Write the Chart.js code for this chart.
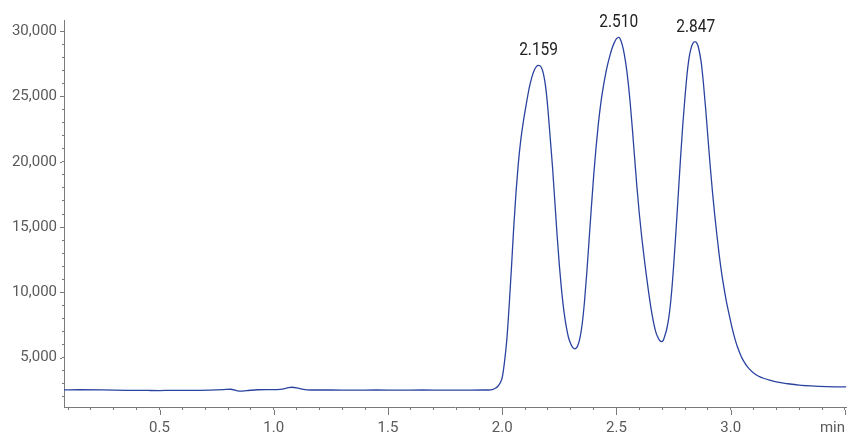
<!DOCTYPE html>
<html>
<head>
<meta charset="utf-8">
<script src="https://cdn.jsdelivr.net/npm/chart.js@4/dist/chart.umd.min.js"></script>
<style>
  html, body { margin: 0; padding: 0; background: #ffffff; }
  #wrap { width: 854px; height: 436px; }
</style>
</head>
<body>
<div id="wrap"><canvas id="c" width="854" height="436"></canvas></div>
<script>
// Retention time (min)
const times = [
  0.08, 0.15, 0.25, 0.35, 0.45, 0.50, 0.55, 0.65, 0.72, 0.78, 0.81, 0.85, 0.88, 0.93, 0.98, 1.03, 1.06, 1.08, 1.10, 1.13, 1.16,
  1.25, 1.35, 1.45, 1.55, 1.65, 1.75, 1.85, 1.92, 1.95, 1.96, 1.97, 1.98, 1.99,
  2.00, 2.01, 2.02, 2.03, 2.04, 2.05, 2.06, 2.07, 2.08, 2.09, 2.10, 2.11, 2.12, 2.13, 2.14, 2.15, 2.159,
  2.17, 2.18, 2.19, 2.20, 2.21, 2.22, 2.23, 2.24, 2.25, 2.26, 2.27, 2.28, 2.29, 2.30, 2.31, 2.317, 2.325,
  2.33, 2.34, 2.35, 2.36, 2.37, 2.38, 2.39, 2.40, 2.41, 2.42, 2.43, 2.44, 2.45, 2.46, 2.47, 2.48, 2.49, 2.50, 2.51,
  2.52, 2.53, 2.54, 2.55, 2.56, 2.57, 2.58, 2.59, 2.60, 2.61, 2.62, 2.63, 2.64, 2.65, 2.66, 2.67, 2.68, 2.69, 2.697,
  2.705, 2.71, 2.72, 2.73, 2.74, 2.75, 2.76, 2.77, 2.78, 2.79, 2.80, 2.81, 2.82, 2.83, 2.84, 2.847, 2.855,
  2.86, 2.87, 2.88, 2.89, 2.90, 2.91, 2.92, 2.93, 2.94, 2.95, 2.96, 2.97, 2.98, 2.99,
  3.00, 3.01, 3.02, 3.03, 3.04, 3.05, 3.06, 3.07, 3.08, 3.10, 3.12, 3.14, 3.17, 3.20, 3.25, 3.30, 3.35, 3.42, 3.506
];
// Detector signal
const signal = [
  2540, 2550, 2540, 2510, 2495, 2490, 2500, 2505, 2520, 2560, 2590, 2450, 2480, 2550, 2560, 2580, 2690, 2740, 2700, 2580, 2530,
  2530, 2520, 2530, 2520, 2530, 2520, 2525, 2530, 2545, 2580, 2660, 2800, 3050,
  3500, 4700, 6400, 8900, 11800, 14900, 17600, 19800, 21500, 22800, 23900, 24900, 25800, 26500, 27000, 27300, 27380,
  27250, 26750, 25730, 24000, 21800, 19600, 17000, 14400, 12050, 10100, 8550, 7400, 6550, 6050, 5750, 5680, 5760,
  5900, 6500, 7600, 9300, 11500, 14000, 16500, 18900, 21000, 22800, 24300, 25500, 26500, 27350, 28050, 28650, 29100, 29420, 29520,
  29250, 28600, 27600, 26250, 24500, 22400, 20150, 17950, 16000, 14300, 12800, 11400, 10100, 8900, 7900, 7100, 6600, 6300, 6230,
  6350, 6600, 7200, 8200, 9800, 12000, 14600, 17400, 20200, 22800, 25000, 26900, 28200, 28900, 29170, 29180, 28950,
  28650, 27700, 26100, 24100, 21900, 19700, 17700, 15900, 14300, 12800, 11500, 10400, 9400, 8550,
  7750, 7000, 6350, 5800, 5350, 4950, 4650, 4380, 4170, 3830, 3600, 3450, 3280, 3150, 3010, 2900, 2840, 2790, 2770
];
// Peak annotations
const peakTimes = [2.159, 2.510, 2.847];
const peakHeights = [27380, 29520, 29180];
const peakLabels = ['2.159', '2.510', '2.847'];
// Axis ticks
const xMajorTicks = [0.5, 1.0, 1.5, 2.0, 2.5, 3.0, 3.5];
const xMajorLabels = ['0.5', '1.0', '1.5', '2.0', '2.5', '3.0', 'min'];
const yMajorTicks = [5000, 10000, 15000, 20000, 25000, 30000];
const yMajorLabels = ['5,000', '10,000', '15,000', '20,000', '25,000', '30,000'];

const xMinor = []; for (let k = 1; k <= 35; k++) xMinor.push(k / 10);
const yMinor = []; for (let k = 2; k <= 30; k++) yMinor.push(k * 1000);

const AXIS = '#7a7a7a';
const LABEL = '#5a5a5a';

const majorTickPlugin = {
  id: 'majorTicks',
  afterDraw(chart) {
    const ctx = chart.ctx;
    const xs = chart.scales.x, ys = chart.scales.y;
    ctx.save();
    ctx.strokeStyle = AXIS;
    ctx.lineWidth = 1;
    ctx.beginPath();
    xMajorTicks.forEach(v => {
      const px = Math.round(xs.getPixelForValue(v)) + 0.5;
      ctx.moveTo(px, xs.top + 3);
      ctx.lineTo(px, xs.top + 8);
    });
    yMajorTicks.forEach(v => {
      const py = Math.round(ys.getPixelForValue(v)) + 0.5;
      ctx.moveTo(ys.right - 2, py);
      ctx.lineTo(ys.right - 4, py);
    });
    ctx.stroke();
    // peak labels
    ctx.fillStyle = '#222222';
    ctx.font = '18px Roboto';
    ctx.textAlign = 'center';
    ctx.textBaseline = 'alphabetic';
    peakTimes.forEach((t, i) => {
      const px = xs.getPixelForValue(t);
      const py = ys.getPixelForValue(peakHeights[i]) - 10;
      ctx.save();
      ctx.translate(px, py);
      ctx.scale(0.86, 1);
      ctx.fillText(peakLabels[i], 0, 0);
      ctx.restore();
    });
    ctx.restore();
  }
};

new Chart(document.getElementById('c'), {
  type: 'line',
  data: {
    datasets: [{
      data: times.map((t, i) => ({ x: t, y: signal[i] })),
      borderColor: '#2b43a0',
      borderWidth: 1.3,
      pointRadius: 0,
      fill: false,
      cubicInterpolationMode: 'monotone'
    }]
  },
  options: {
    responsive: false,
    animation: false,
    devicePixelRatio: 1,
    layout: { padding: { top: 20, right: 7, left: 0, bottom: 0 } },
    plugins: { legend: { display: false }, tooltip: { enabled: false } },
    scales: {
      x: {
        type: 'linear',
        min: 0.082,
        max: 3.506,
        border: { color: AXIS, width: 1 },
        grid: { drawOnChartArea: false, drawTicks: true, tickLength: 3, tickColor: AXIS },
        afterBuildTicks: s => { s.ticks = xMinor.map(v => ({ value: v })); },
        afterFit: s => { s.height = 29; },
        ticks: {
          autoSkip: false, maxRotation: 0, minRotation: 0, align: 'inner', padding: 9,
          color: LABEL, font: { family: 'Roboto', size: 15 },
          callback: (v) => {
            const i = xMajorTicks.findIndex(m => Math.abs(m - v) < 1e-6);
            return i >= 0 ? xMajorLabels[i] : '';
          }
        }
      },
      y: {
        type: 'linear',
        min: 1230,
        max: 30850,
        border: { color: AXIS, width: 1 },
        grid: { drawOnChartArea: false, drawTicks: true, tickLength: 2, tickColor: AXIS },
        afterBuildTicks: s => { s.ticks = yMinor.map(v => ({ value: v })); },
        afterFit: s => { s.width = 64; },
        ticks: {
          autoSkip: false, padding: 5,
          color: LABEL, font: { family: 'Roboto', size: 15 },
          callback: (v) => {
            const i = yMajorTicks.indexOf(v);
            return i >= 0 ? yMajorLabels[i] : '';
          }
        }
      }
    }
  },
  plugins: [majorTickPlugin]
});
</script>
</body>
</html>
